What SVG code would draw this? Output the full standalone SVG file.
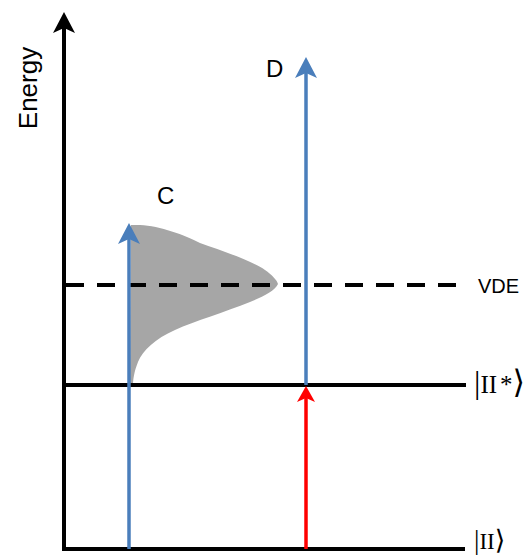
<svg xmlns="http://www.w3.org/2000/svg" width="528" height="558" viewBox="0 0 528 558">
<style>
.sans{font-family:"Liberation Sans",Arial,sans-serif;fill:#000}
.serif{font-family:"Liberation Serif","DejaVu Serif",serif;fill:#000}
.axis{stroke:#000;stroke-width:4;fill:none}
.blue{stroke:#4a7ebb;stroke-width:3.5;fill:none}
.red{stroke:#ff0000;stroke-width:3.5;fill:none}
.br{font-family:"DejaVu Serif",serif}
</style>
<rect width="528" height="558" fill="#fff"/>
<g id="distribution">
<path d="M131,225 L140,225 C160,226 185,235 200,243 C220,250 250,260 265,270 C272,275 277,280 278,284 C275,291 262,297 250,302 C225,312 195,321 175,330 C155,339 143,350 138,362 C134,372 133,380 133,385 L130,385 Z" fill="#a6a6a6"/>
</g>
<g id="levels">
<line x1="62" y1="549" x2="465" y2="549" class="axis"/>
<line x1="64" y1="385" x2="466" y2="385" class="axis"/>
<line x1="66" y1="285" x2="462" y2="285" class="axis" stroke-dasharray="18 13"/>
</g>
<g id="connectors">
<line x1="129" y1="549" x2="129" y2="236" class="blue"/>
<polygon points="129,223 118,244 129,239 140,244" fill="#4a7ebb"/>
<line x1="306" y1="385" x2="306" y2="70" class="blue"/>
<polygon points="306,57 295,78 306,73 317,78" fill="#4a7ebb"/>
<line x1="306" y1="549" x2="306" y2="398" class="red"/>
<polygon points="306,386 297,402 306,398 315,402" fill="#ff0000"/>
</g>
<g id="axis">
<line x1="64" y1="551" x2="64" y2="26" class="axis"/>
<polygon points="64,12 53,33 64,28 75,33" fill="#000"/>
<text class="sans" font-size="26" text-anchor="middle" transform="translate(37,88) rotate(-90)">Energy</text>
</g>
<g id="labels">
<text class="sans" x="157" y="204" font-size="24">C</text>
<text class="sans" x="266" y="77" font-size="24">D</text>
<text class="sans" x="478" y="293" font-size="20">VDE</text>
<text class="serif" x="474" y="393" font-size="25"><tspan font-size="32">|</tspan>II<tspan dx="3">*</tspan><tspan class="br" font-size="32">⟩</tspan></text>
<text class="serif" x="474" y="549" font-size="23"><tspan font-size="27">|</tspan>II<tspan class="br" font-size="27">⟩</tspan></text>
</g>
</svg>
